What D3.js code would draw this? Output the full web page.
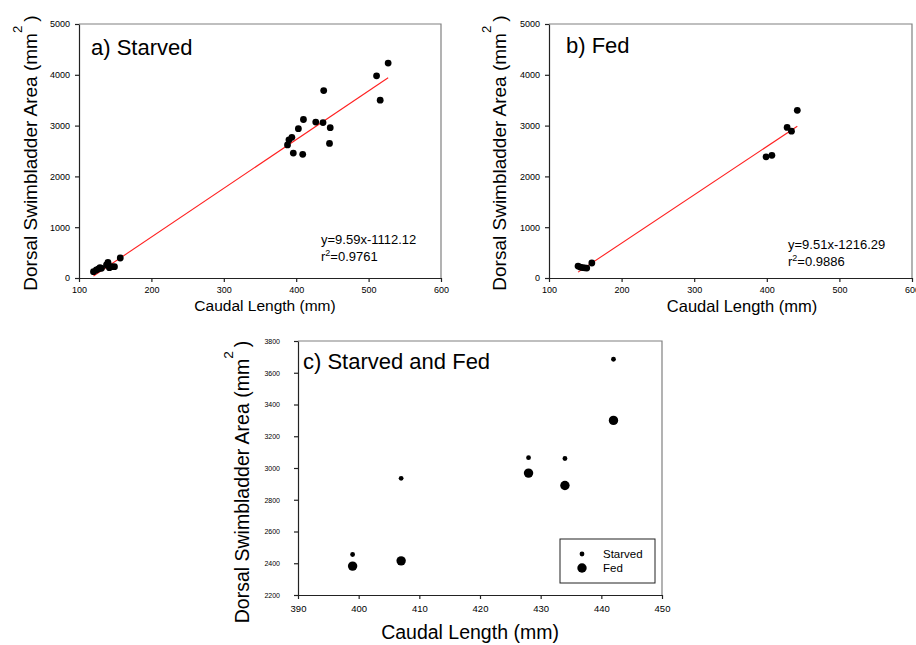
<!DOCTYPE html>
<meta charset="utf-8">
<style>
body { margin: 0; background: #fff; }
svg { font-family: "Liberation Sans", Arial, sans-serif; }
</style>
<svg width="916" height="645"></svg>

<script src="https://d3js.org/d3.v7.min.js"></script>
<script>

// a) starved fish: caudal length (mm) vs dorsal swimbladder area (mm2)
var starvedLength = [120, 124, 127, 129, 131, 138, 140, 142, 145, 149, 157,
  388, 390, 394, 396, 403, 409, 410, 427, 437, 438, 446, 447, 511, 516, 527]
var starvedArea = [125, 157, 180, 203, 190, 256, 309, 203, 222, 222, 394,
  2620, 2720, 2770, 2460, 2940, 2435, 3120, 3070, 3060, 3690, 2650, 2960, 3980, 3500, 4230]

// b) fed fish
var fedLength = [140, 143, 146, 149, 152, 159, 399, 407, 428, 434, 442]
var fedArea = [235, 215, 205, 200, 195, 295, 2385, 2415, 2965, 2890, 3300]

// c) same lengths, both treatments
var pairLength = [399, 407, 428, 434, 442]
var pairStarved = [2455, 2935, 3065, 3060, 3685]
var pairFed = [2382, 2415, 2968, 2890, 3300]

// regression lines
var starvedFit = [9.59, -1112.12, "y=9.59x-1112.12", "0.9761"]
var fedFit = [9.51, -1216.29, "y=9.51x-1216.29", "0.9886"]

// tick labels
var xTicksAB = [100, 200, 300, 400, 500, 600]
var yTicksAB = [0, 1000, 2000, 3000, 4000, 5000]
var xTicksC = [390, 400, 410, 420, 430, 440, 450]
var yTicksC = [2200, 2400, 2600, 2800, 3000, 3200, 3400, 3600, 3800]

var svg = d3.select("svg")
var fmt = d3.format("d")

function zip(xs, ys) {
  return xs.map(function (v, i) { return { x: v, y: ys[i] } })
}

// draws the box, axes and titles of one panel, returns the scales
function makePanel(o) {
  var x = d3.scaleLinear().domain(o.xDomain).range([o.left, o.right])
  var y = d3.scaleLinear().domain(o.yDomain).range([o.bottom, o.top])
  var g = svg.append("g")

  // gray top and right sides of the frame
  g.append("path")
    .attr("d", "M" + o.left + "," + o.top + "H" + o.right + "V" + o.bottom)
    .attr("fill", "none")
    .attr("stroke", "#808080")
    .attr("stroke-width", 1.2)

  var ax = g.append("g")
    .attr("transform", "translate(0," + o.bottom + ")")
    .call(d3.axisBottom(x).tickValues(o.xTicks).tickFormat(fmt)
      .tickSize(4).tickSizeOuter(0).tickPadding(o.xPad))
  var ay = g.append("g")
    .attr("transform", "translate(" + o.left + ",0)")
    .call(d3.axisLeft(y).tickValues(o.yTicks).tickFormat(fmt)
      .tickSize(4).tickSizeOuter(0).tickPadding(o.yPad))

  ax.selectAll("text").style("font-size", o.xTickFont + "px")
  ay.selectAll("text").style("font-size", o.yTickFont + "px")
  ax.attr("font-family", null); ay.attr("font-family", null)
  g.selectAll(".domain, .tick line").attr("stroke", "#222").attr("stroke-width", 1.2)

  // x title
  g.append("text")
    .attr("x", o.xTitle[0]).attr("y", o.xTitle[1])
    .attr("text-anchor", "middle")
    .style("font-size", o.titleFont + "px")
    .text("Caudal Length (mm)")

  // y title with superscript
  var yt = g.append("text")
    .attr("transform", "translate(" + o.yTitle[0] + "," + o.yTitle[1] + ") rotate(-90)")
    .attr("text-anchor", "middle")
    .style("font-size", o.yTitleFont + "px")
  yt.append("tspan").text("Dorsal Swimbladder Area (mm")
  yt.append("tspan").attr("dy", -o.yTitleFont * 0.8).style("font-size", (o.yTitleFont * 0.7) + "px").text("2")
  yt.append("tspan").attr("dy", o.yTitleFont * 0.8).attr("dx", 4).text(")")

  // panel label
  g.append("text")
    .attr("x", o.label[0]).attr("y", o.label[1])
    .style("font-size", "22px")
    .text(o.label[2])

  return { g: g, x: x, y: y }
}

function drawFit(p, fit, data, ex, ey) {
  var xs = d3.extent(data, function (d) { return d.x })
  p.g.append("line")
    .attr("x1", p.x(xs[0])).attr("y1", p.y(fit[0] * xs[0] + fit[1]))
    .attr("x2", p.x(xs[1])).attr("y2", p.y(fit[0] * xs[1] + fit[1]))
    .attr("stroke", "#ff2020")
    .attr("stroke-width", 1.1)

  p.g.append("text").attr("x", ex).attr("y", ey)
    .style("font-size", "13px").text(fit[2])
  var r = p.g.append("text").attr("x", ex).attr("y", ey + 17).style("font-size", "13px")
  r.append("tspan").text("r")
  r.append("tspan").attr("dy", -5).style("font-size", "9px").text("2")
  r.append("tspan").attr("dy", 5).text("=" + fit[3])
}

function drawDots(p, data, radius) {
  p.g.append("g").selectAll("circle")
    .data(data)
    .enter().append("circle")
    .attr("cx", function (d) { return p.x(d.x) })
    .attr("cy", function (d) { return p.y(d.y) })
    .attr("r", radius)
    .attr("fill", "#000")
}

// ---- a) Starved
var starvedData = zip(starvedLength, starvedArea)
var pa = makePanel({
  left: 79, right: 441, top: 24, bottom: 278,
  xDomain: [100, 600], yDomain: [0, 5000],
  xTicks: xTicksAB, yTicks: yTicksAB,
  xPad: 5, yPad: 5, xTickFont: 9, yTickFont: 9,
  titleFont: 15.5, yTitleFont: 19,
  xTitle: [265, 311], yTitle: [37, 153],
  label: [91, 55, "a) Starved"]
})
drawFit(pa, starvedFit, starvedData, 321, 244)
drawDots(pa, starvedData, 3.4)

// ---- b) Fed
var fedData = zip(fedLength, fedArea)
var pb = makePanel({
  left: 549, right: 912, top: 24, bottom: 278,
  xDomain: [100, 600], yDomain: [0, 5000],
  xTicks: xTicksAB, yTicks: yTicksAB,
  xPad: 5, yPad: 5, xTickFont: 9, yTickFont: 9,
  titleFont: 16.5, yTitleFont: 19,
  xTitle: [742, 312], yTitle: [506, 153],
  label: [566, 53, "b) Fed"]
})
drawFit(pb, fedFit, fedData, 788, 249)
drawDots(pb, fedData, 3.4)

// ---- c) Starved and Fed
var pc = makePanel({
  left: 298, right: 662, top: 341, bottom: 595,
  xDomain: [390, 450], yDomain: [2200, 3800],
  xTicks: xTicksC, yTicks: yTicksC,
  xPad: 6, yPad: 14, xTickFont: 9.5, yTickFont: 7,
  titleFont: 19.5, yTitleFont: 19.5,
  xTitle: [470, 639], yTitle: [249, 482],
  label: [303, 369, "c) Starved and Fed"]
})
drawDots(pc, zip(pairLength, pairStarved), 2.4)
drawDots(pc, zip(pairLength, pairFed), 4.7)

// legend
var legend = pc.g.append("g")
legend.append("rect")
  .attr("x", 560).attr("y", 539).attr("width", 95).attr("height", 44)
  .attr("fill", "#fff").attr("stroke", "#222").attr("stroke-width", 1)
var legendItems = [["Starved", 2.4], ["Fed", 4.7]]
legendItems.forEach(function (it, i) {
  legend.append("circle").attr("cx", 582).attr("cy", 554 + i * 14).attr("r", it[1]).attr("fill", "#000")
  legend.append("text").attr("x", 603).attr("y", 558 + i * 14)
    .style("font-size", "11.5px").text(it[0])
})

</script>
